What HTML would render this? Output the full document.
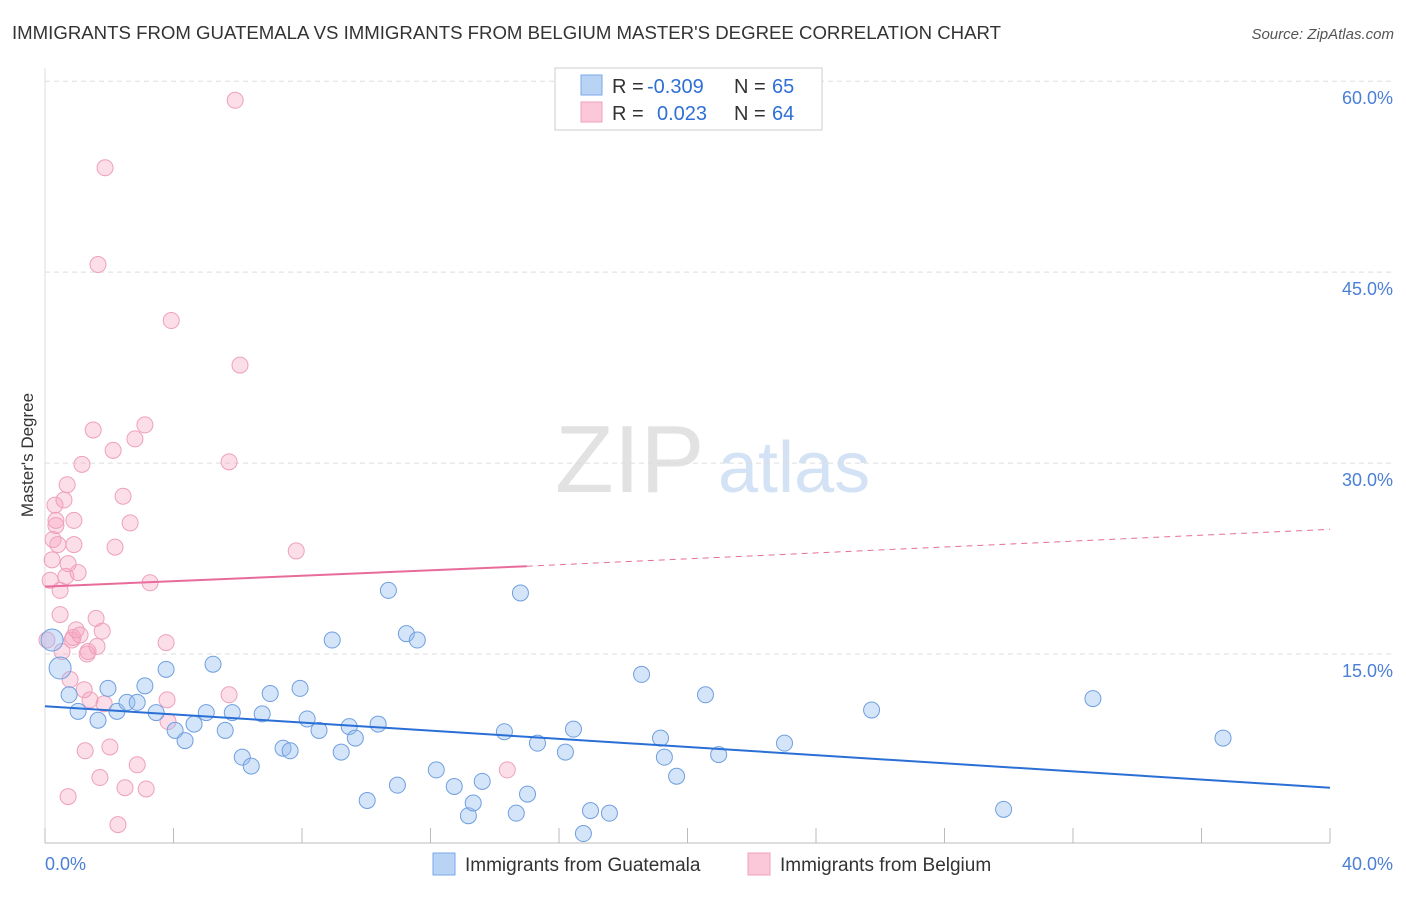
<!DOCTYPE html>
<html><head><meta charset="utf-8">
<style>
body{margin:0;background:#fff;font-family:"Liberation Sans",sans-serif;}
svg text{font-family:"Liberation Sans",sans-serif;}
</style></head>
<body>
<svg id="chart" width="1406" height="892">
<text x="12" y="39" font-size="18" fill="#333" textLength="989" lengthAdjust="spacingAndGlyphs">IMMIGRANTS FROM GUATEMALA VS IMMIGRANTS FROM BELGIUM MASTER'S DEGREE CORRELATION CHART</text>
<text x="1394" y="39" font-size="15" fill="#555" font-style="italic" text-anchor="end">Source: ZipAtlas.com</text>
<text x="33" y="455" font-size="17" fill="#333" text-anchor="middle" transform="rotate(-90 33 455)">Master's Degree</text>
<text x="555" y="492" font-size="96" fill="#e2e2e2" font-family="Liberation Serif">ZIP</text>
<text x="718" y="492" font-size="72" fill="#d3e2f4">atlas</text>
<g id="grid"></g><g id="pts"></g><g id="lines"></g>
<g>
<rect x="555" y="68" width="267" height="62" fill="#fff" stroke="#ccc"/>
<rect x="581" y="75" width="21" height="20" fill="#b8d3f3" stroke="#7aaae8"/>
<rect x="581" y="102" width="21" height="20" fill="#fac8d8" stroke="#f0a0bc"/>
<text x="612" y="93" font-size="20" fill="#333">R =</text><text x="647" y="93" font-size="20" fill="#2f6fd6">-0.309</text>
<text x="734" y="93" font-size="20" fill="#333">N =</text><text x="772" y="93" font-size="20" fill="#2f6fd6">65</text>
<text x="612" y="120" font-size="20" fill="#333">R =</text><text x="657" y="120" font-size="20" fill="#2f6fd6">0.023</text>
<text x="734" y="120" font-size="20" fill="#333">N =</text><text x="772" y="120" font-size="20" fill="#2f6fd6">64</text>
</g>
<g>
<rect x="433" y="853" width="22" height="22" fill="#b8d3f3" stroke="#7aaae8"/>
<text x="465" y="871" font-size="19" fill="#333">Immigrants from Guatemala</text>
<rect x="748" y="853" width="22" height="22" fill="#fac8d8" stroke="#f0a0bc"/>
<text x="780" y="871" font-size="19" fill="#333">Immigrants from Belgium</text>
</g>
</svg>
<script>
const yTicks=[15,30,45,60];
const xTickLabels=["0.0%","40.0%"];
const blueX=[0.22,0.47,0.75,1.03,1.65,1.96,2.24,2.55,2.87,3.11,3.46,3.77,4.05,4.36,4.64,5.02,5.23,5.61,5.83,6.14,6.42,6.76,7.01,7.41,7.63,7.94,8.16,8.53,8.94,9.22,9.47,9.66,10.03,10.37,10.69,10.97,11.25,11.59,12.18,12.74,13.18,13.33,13.61,14.30,14.67,14.80,15.02,15.33,16.20,16.45,16.76,16.98,17.57,18.57,19.16,19.28,19.66,20.56,20.97,23.02,25.73,29.84,32.62,36.67];
const blueY=[16.1,13.9,11.8,10.5,9.8,12.3,10.5,11.2,11.2,12.5,10.4,13.8,9.0,8.2,9.5,10.4,14.2,9.0,10.4,6.9,6.2,10.3,11.9,7.6,7.4,12.3,9.9,9.0,16.1,7.3,9.3,8.4,3.5,9.5,20.0,4.7,16.6,16.1,5.9,4.6,2.3,3.3,5.0,8.9,2.5,19.8,4.0,8.0,7.3,9.1,0.9,2.7,2.5,13.4,8.4,6.9,5.4,11.8,7.1,8.0,10.6,2.8,11.5,8.4];
const pinkX=[0.06,0.16,0.22,0.25,0.31,0.34,0.34,0.40,0.47,0.53,0.47,0.59,0.65,0.69,0.72,0.78,0.84,0.87,0.90,0.90,0.97,1.03,1.09,1.15,1.22,1.25,1.31,1.34,1.40,1.50,1.59,1.62,1.65,1.71,1.78,1.84,1.87,2.02,2.12,2.18,2.27,2.43,2.49,2.65,2.80,2.87,3.11,3.15,3.27,3.77,3.80,3.83,3.93,5.73,5.73,5.92,6.07,7.82,14.39,0.72];
const pinkY=[16.1,20.8,22.4,24.0,26.7,25.1,25.5,23.6,20.0,15.2,18.1,27.1,21.1,28.3,22.1,13.0,16.1,16.3,25.5,23.6,16.9,21.4,16.5,29.9,12.2,7.4,15.0,15.2,11.4,32.6,17.8,15.6,45.6,5.3,16.8,11.1,53.2,7.7,31.0,23.4,1.6,27.4,4.5,25.3,31.9,6.3,33.0,4.4,20.6,15.9,11.4,9.7,41.2,11.8,30.1,58.5,37.7,23.1,5.9,3.8];
const blueLine=[10.9,4.5];
const pinkLine=[20.3,21.9,24.8];
const X=v=>45+v*32.125, Y=v=>845-v*12.73;
const NS="http://www.w3.org/2000/svg";
function mk(tag,attrs,parent){const e=document.createElementNS(NS,tag);for(const k in attrs)e.setAttribute(k,attrs[k]);parent.appendChild(e);return e;}
const grid=document.getElementById('grid');
yTicks.forEach(t=>{
  const l=mk('line',{x1:45,x2:1394,y1:Y(t),y2:Y(t),stroke:'#ddd','stroke-dasharray':'5,4'},grid);
  
  
  const tx=mk('text',{x:1393,y:Y(t)+23,'font-size':18,fill:'#4a7fd6','text-anchor':'end'},grid);
  tx.textContent=t.toFixed(1)+'%';
  
  
});
const ax=mk('line',{x1:45,x2:1330,y1:843,y2:843,stroke:'#bbb'},grid);


const ay=mk('line',{x1:45,x2:45,y1:68,y2:843,stroke:'#ddd'},grid);


for(let i=0;i<=10;i++){const t=mk('line',{x1:X(i*4),x2:X(i*4),y1:828,y2:843,stroke:'#bbb'},grid);
  
  }
[[0,45,'start'],[40,1393,'end']].forEach((d,i)=>{const t=mk('text',{x:d[1],y:870,'font-size':18,fill:'#4a7fd6','text-anchor':d[2]},grid);t.textContent=xTickLabels[i];
  
  });
const pts=document.getElementById('pts');
pinkX.forEach((x,i)=>{const c=mk('circle',{cx:X(x),cy:Y(pinkY[i]),r:8,fill:'rgba(245,160,190,0.35)',stroke:'#eea0bb','stroke-width':1},pts);
  
  });
blueX.forEach((x,i)=>{const c=mk('circle',{cx:X(x),cy:Y(blueY[i]),r:(i<2?11:8),fill:'rgba(150,190,240,0.4)',stroke:'#6f9fe0','stroke-width':1},pts);
  
  });
const ln=document.getElementById('lines');
const bl=mk('line',{x1:X(0),y1:Y(blueLine[0]),x2:X(40),y2:Y(blueLine[1]),stroke:'#2a6fd6','stroke-width':2},ln);


const pl=mk('line',{x1:X(0),y1:Y(pinkLine[0]),x2:X(15),y2:Y(pinkLine[1]),stroke:'#e86c9a','stroke-width':2},ln);


const pd=mk('line',{x1:X(15),y1:Y(pinkLine[1]),x2:X(40),y2:Y(pinkLine[2]),stroke:'#e86c9a','stroke-width':1,'stroke-dasharray':'6,5'},ln);


</script>
</body></html>
